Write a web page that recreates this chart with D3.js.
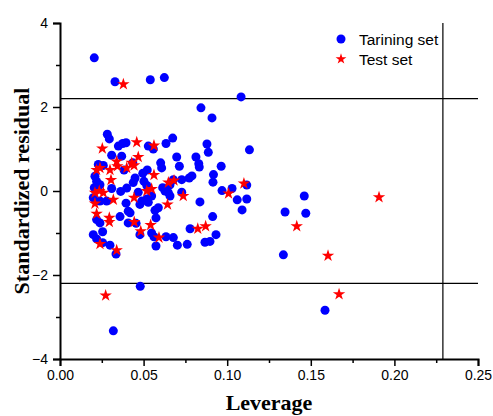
<!DOCTYPE html>
<html>
<head>
<meta charset="utf-8">
<script src="https://cdn.jsdelivr.net/npm/d3@7"></script>
<style>
  body { margin: 0; background: #fff; }
  .tick text { font-family: Arial, "Liberation Sans", sans-serif; font-size: 14px; fill: #000; }
  .axis-title { font-family: "Times New Roman", "Liberation Serif", serif; font-weight: bold; font-size: 22px; }
</style>
</head>
<body>
<div id="chart"></div>
<script>
/*
 * Williams plot (standardized residual vs leverage)
 */

// training set: leverage / standardized residual
var trainLeverage = [
  0.0205, 0.0329, 0.0540, 0.0624, 0.0843, 0.0909, 0.1083, 0.1133, 0.1117, 0.1117,
  0.1060, 0.1089, 0.1461, 0.1346, 0.1470, 0.1336, 0.1585, 0.0480, 0.0319, 0.0283,
  0.0295, 0.0349, 0.0375, 0.0395, 0.0528, 0.0558, 0.0634, 0.0674, 0.0879, 0.0887,
  0.0309, 0.0369, 0.0229, 0.0259, 0.0383, 0.0435, 0.0522, 0.0602, 0.0608, 0.0698,
  0.0714, 0.0813, 0.0830, 0.0833, 0.0918, 0.0915, 0.0964, 0.0969, 0.1029, 0.0449,
  0.0495, 0.0502, 0.0519, 0.0773, 0.0789, 0.0728, 0.0658, 0.0678, 0.0209, 0.0219,
  0.0205, 0.0239, 0.0309, 0.0363, 0.0399, 0.0438, 0.0468, 0.0614, 0.0628, 0.0648,
  0.0728, 0.0837, 0.0199, 0.0239, 0.0279, 0.0395, 0.0489, 0.0519, 0.0548, 0.0588,
  0.0658, 0.0408, 0.0419, 0.0478, 0.0528, 0.0568, 0.0574, 0.0359, 0.0408, 0.0219,
  0.0239, 0.0455, 0.0478, 0.0548, 0.0562, 0.0255, 0.0199, 0.0219, 0.0255, 0.0299,
  0.0335, 0.0574, 0.0634, 0.0678, 0.0702, 0.0761, 0.0778, 0.0867, 0.0897, 0.0913,
  0.0933
];
var trainResidual = [
  3.17, 2.60, 2.65, 2.70, 1.98, 1.74, 2.24, 0.98, 0.14, -0.19,
  -0.21, -0.45, -0.12, -0.50, -0.53, -1.52, -2.84, -2.27, -3.33, 1.35,
  1.24, 1.07, 1.13, 1.15, 1.07, 1.00, 1.13, 1.26, 1.12, 0.92,
  0.85, 0.83, 0.63, 0.61, 0.50, 0.67, 0.50, 0.67, 0.55, 0.81,
  0.59, 0.81, 0.65, 0.57, 0.39, 0.21, 0.59, 0.01, 0.06, 0.31,
  0.42, 0.23, 0.13, 0.31, 0.36, 0.27, 0.15, 0.27, 0.35, 0.23,
  0.08, 0.15, 0.06, -0.01, 0.07, 0.20, -0.03, 0.08, 0.00, -0.04,
  -0.03, -0.26, -0.16, -0.24, -0.24, -0.29, -0.24, -0.19, -0.12, -0.40,
  -0.12, -0.48, -0.52, -0.32, -0.27, -0.46, -0.64, -0.61, -0.76, -0.68,
  -0.76, -0.77, -1.04, -1.00, -1.09, -0.97, -1.04, -1.14, -1.23, -1.29,
  -1.50, -1.31, -1.09, -1.11, -1.29, -1.27, -0.90, -1.22, -1.20, -0.61,
  -1.04
];

// test set
var testLeverage = [
  0.0379, 0.0253, 0.0459, 0.0562, 0.0339, 0.0468, 0.0429, 0.0443, 0.0219, 0.0239,
  0.0299, 0.0343, 0.0399, 0.0305, 0.0562, 0.0648, 0.0682, 0.0519, 0.0548, 0.0737,
  0.1008, 0.1100, 0.0209, 0.0235, 0.0259, 0.0319, 0.0443, 0.0643, 0.0209, 0.0219,
  0.0295, 0.0295, 0.0444, 0.0483, 0.0542, 0.0592, 0.0239, 0.0339, 0.0824, 0.0871,
  0.0273, 0.1416, 0.1603, 0.1669, 0.1908
];
var testResidual = [
  2.54, 1.01, 1.16, 1.08, 0.70, 0.81, 0.67, 0.61, 0.50, 0.55,
  0.50, 0.59, 0.55, 0.26, 0.38, 0.20, 0.25, 0.00, 0.05, -0.12,
  -0.06, 0.18, -0.04, 0.00, -0.04, -0.21, -0.16, -0.32, -0.30, -0.54,
  -0.64, -0.74, -0.74, -0.96, -0.81, -1.11, -1.26, -1.41, -0.90, -0.84,
  -2.49, -0.84, -1.54, -2.46, -0.15
];

var seriesNames = ["Tarining set", "Test set"];
var xTicks = [0, 0.05, 0.10, 0.15, 0.20, 0.25];
var yTicks = [-4, -2, 0, 2, 4];
var residualLimits = [2.2, -2.2];
var leverageLimit = 0.229;

var width = 493;
var height = 416;
var margin = { left: 60, right: 15, top: 23, bottom: 57 };

var x = d3.scaleLinear().domain([0, 0.25]).range([margin.left, width - margin.right]);
var y = d3.scaleLinear().domain([-4, 4]).range([height - margin.bottom, margin.top]);

var svg = d3.select('#chart')
    .append('svg')
    .attr('width', width)
    .attr('height', height);

// reference lines
svg.selectAll('.hline')
    .data(residualLimits)
    .enter()
    .append('line')
    .attr('x1', x(0))
    .attr('x2', x(0.25))
    .attr('y1', function (d) { return y(d); })
    .attr('y2', function (d) { return y(d); })
    .attr('stroke', '#000')
    .attr('stroke-width', 1.2);

svg.append('line')
    .attr('x1', x(leverageLimit))
    .attr('x2', x(leverageLimit))
    .attr('y1', y(4))
    .attr('y2', y(-4))
    .attr('stroke', '#000')
    .attr('stroke-width', 1.2);

// minor ticks
svg.append('g')
    .attr('transform', 'translate(0,' + y(-4) + ')')
    .call(d3.axisBottom(x).tickValues([0.025, 0.075, 0.125, 0.175, 0.225]).tickSize(4).tickFormat(''))
    .call(function (g) { g.select('.domain').remove(); })
    .selectAll('line').attr('stroke-width', 1.5);

svg.append('g')
    .attr('transform', 'translate(' + x(0) + ',0)')
    .call(d3.axisLeft(y).tickValues([-3, -1, 1, 3]).tickSize(4).tickFormat(''))
    .call(function (g) { g.select('.domain').remove(); })
    .selectAll('line').attr('stroke-width', 1.5);

// main axes
var xAxis = svg.append('g')
    .attr('transform', 'translate(0,' + y(-4) + ')')
    .call(d3.axisBottom(x).tickValues(xTicks).tickSize(7).tickPadding(4).tickFormat(d3.format('.2f')));
xAxis.select('.domain').attr('stroke-width', 2);
xAxis.selectAll('.tick line').attr('stroke-width', 1.5);

var yAxis = svg.append('g')
    .attr('transform', 'translate(' + x(0) + ',0)')
    .call(d3.axisLeft(y).tickValues(yTicks).tickSize(7).tickPadding(5).tickFormat(d3.format('d')));
yAxis.select('.domain').attr('stroke-width', 2);
yAxis.selectAll('.tick line').attr('stroke-width', 1.5);

// axis titles
svg.append('text')
    .attr('class', 'axis-title')
    .attr('x', (x(0) + x(0.25)) / 2)
    .attr('y', 410)
    .attr('text-anchor', 'middle')
    .text('Leverage');

svg.append('text')
    .attr('class', 'axis-title')
    .attr('transform', 'translate(29,' + y(0) + ') rotate(-90)')
    .attr('text-anchor', 'middle')
    .text('Standardized residual');

// points
var training = trainLeverage.map(function (d, i) { return { x: d, y: trainResidual[i] }; });
var test = testLeverage.map(function (d, i) { return { x: d, y: testResidual[i] }; });

svg.selectAll('.train')
    .data(training)
    .enter()
    .append('circle')
    .attr('class', 'train')
    .attr('cx', function (d) { return x(d.x); })
    .attr('cy', function (d) { return y(d.y); })
    .attr('r', 4.5)
    .attr('fill', '#0000ff');

var star = d3.symbol().type(d3.symbolStar).size(48);

svg.selectAll('.test')
    .data(test)
    .enter()
    .append('path')
    .attr('class', 'test')
    .attr('d', star)
    .attr('transform', function (d) { return 'translate(' + x(d.x) + ',' + y(d.y) + ')'; })
    .attr('fill', '#ff0000');

// legend
var legend = svg.selectAll('.legend')
    .data(seriesNames)
    .enter()
    .append('g')
    .attr('class', 'legend')
    .attr('transform', function (d, i) { return 'translate(341,' + (39 + i * 20) + ')'; });

legend.each(function (d, i) {
    var g = d3.select(this);
    if (i === 0) {
        g.append('circle').attr('r', 4.5).attr('fill', '#0000ff');
    } else {
        g.append('path').attr('d', d3.symbol().type(d3.symbolStar).size(36)).attr('fill', '#ff0000');
    }
});

legend.append('text')
    .attr('x', 18)
    .attr('y', 6)
    .style('font-family', 'Arial, "Liberation Sans", sans-serif')
    .style('font-size', '15.5px')
    .text(function (d) { return d; });
</script>
</body>
</html>
